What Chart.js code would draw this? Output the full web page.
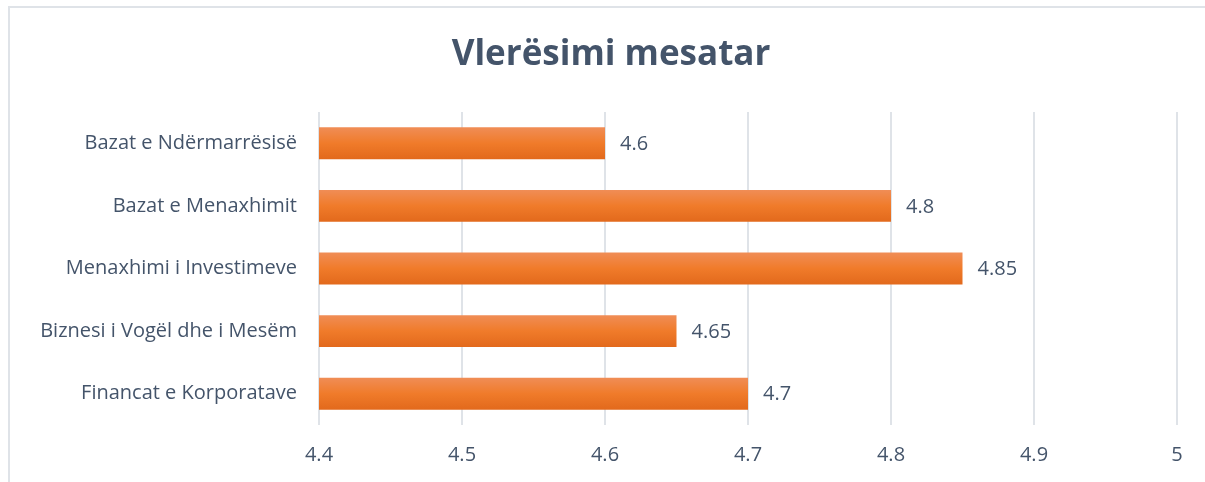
<!DOCTYPE html>
<html>
<head>
<meta charset="utf-8">
<script src="https://cdn.jsdelivr.net/npm/chart.js@4"></script>
<style>
  body { margin: 0; background: #fff; }
  #wrap { position: relative; width: 1205px; height: 482px; overflow: hidden; }
  #frame { position: absolute; left: 8px; top: 6px; width: 1300px; height: 600px;
           border-top: 2px solid #dfe3e8; border-left: 2px solid #dfe3e8; }
  #chart { position: absolute; left: 0; top: 0; }
</style>
</head>
<body>
<div id="wrap">
  <div id="frame"></div>
  <canvas id="chart" width="1205" height="482"></canvas>
</div>
<script>
// chart data
const chartTitle = 'Vlerësimi mesatar';
const categories = ['Bazat e Ndërmarrësisë', 'Bazat e Menaxhimit', 'Menaxhimi i Investimeve',
                    'Biznesi i Vogël dhe i Mesëm', 'Financat e Korporatave'];
const scores = [4.6, 4.8, 4.85, 4.65, 4.7];
const axisMin = 4.4;
const axisMax = 5;
const axisStep = 0.1;

const textColor = '#44546a';
const fontName = '"Open Sans", "Noto Sans", sans-serif';

// title drawn by hand so it sits where the original has it
const titlePlugin = {
    id: 'titlePlugin',
    afterDraw(chart) {
        const ctx = chart.ctx;
        ctx.save();
        ctx.font = 'bold 35px ' + fontName;
        ctx.fillStyle = textColor;
        ctx.textAlign = 'center';
        ctx.textBaseline = 'middle';
        ctx.fillText(chartTitle, 611, 55);
        ctx.restore();
    }
};

// vertical orange gradient on each bar
const barGradient = {
    id: 'barGradient',
    beforeDatasetsDraw(chart) {
        const ctx = chart.ctx;
        chart.getDatasetMeta(0).data.forEach(bar => {
            let top = bar.y - bar.height / 2;
            let g = ctx.createLinearGradient(0, top, 0, top + bar.height);
            g.addColorStop(0, '#f08d56');
            g.addColorStop(0.5, '#f07b2a');
            g.addColorStop(1, '#e2691c');
            bar.options = Object.assign({}, bar.options, { backgroundColor: g });
        });
    }
};

// value labels to the right of the bars
const valueLabels = {
    id: 'valueLabels',
    afterDatasetsDraw(chart) {
        const ctx = chart.ctx;
        ctx.save();
        ctx.font = '20px ' + fontName;
        ctx.fillStyle = textColor;
        ctx.textAlign = 'left';
        ctx.textBaseline = 'middle';
        chart.getDatasetMeta(0).data.forEach((bar, i) => {
            ctx.fillText(String(scores[i]), bar.x + 15, bar.y + 1);
        });
        ctx.restore();
    }
};

new Chart(document.getElementById('chart').getContext('2d'), {
    type: 'bar',
    data: {
        labels: categories,
        datasets: [{
            data: scores,
            backgroundColor: '#ed7d31',
            barPercentage: 0.51,
            categoryPercentage: 1
        }]
    },
    plugins: [barGradient, valueLabels, titlePlugin],
    options: {
        indexAxis: 'y',
        responsive: false,
        animation: false,
        layout: { padding: { left: 0, right: 28, top: 112, bottom: 0 } },
        plugins: {
            legend: { display: false },
            tooltip: { enabled: false },
            title: { display: false }
        },
        scales: {
            x: {
                min: axisMin,
                max: axisMax,
                border: { display: false },
                grid: { color: '#dfe3e8', lineWidth: 2, drawTicks: false },
                ticks: {
                    stepSize: axisStep,
                    color: textColor,
                    font: { family: fontName, size: 20 },
                    padding: 18,
                    callback: v => Math.round(v * 10) / 10
                },
                afterFit: scale => { scale.height = 57; }
            },
            y: {
                border: { display: false },
                grid: { display: false, drawTicks: false },
                ticks: {
                    color: textColor,
                    font: { family: fontName, size: 20 },
                    padding: 22
                },
                afterFit: scale => { scale.width = 319; }
            }
        }
    }
});
</script>
</body>
</html>
